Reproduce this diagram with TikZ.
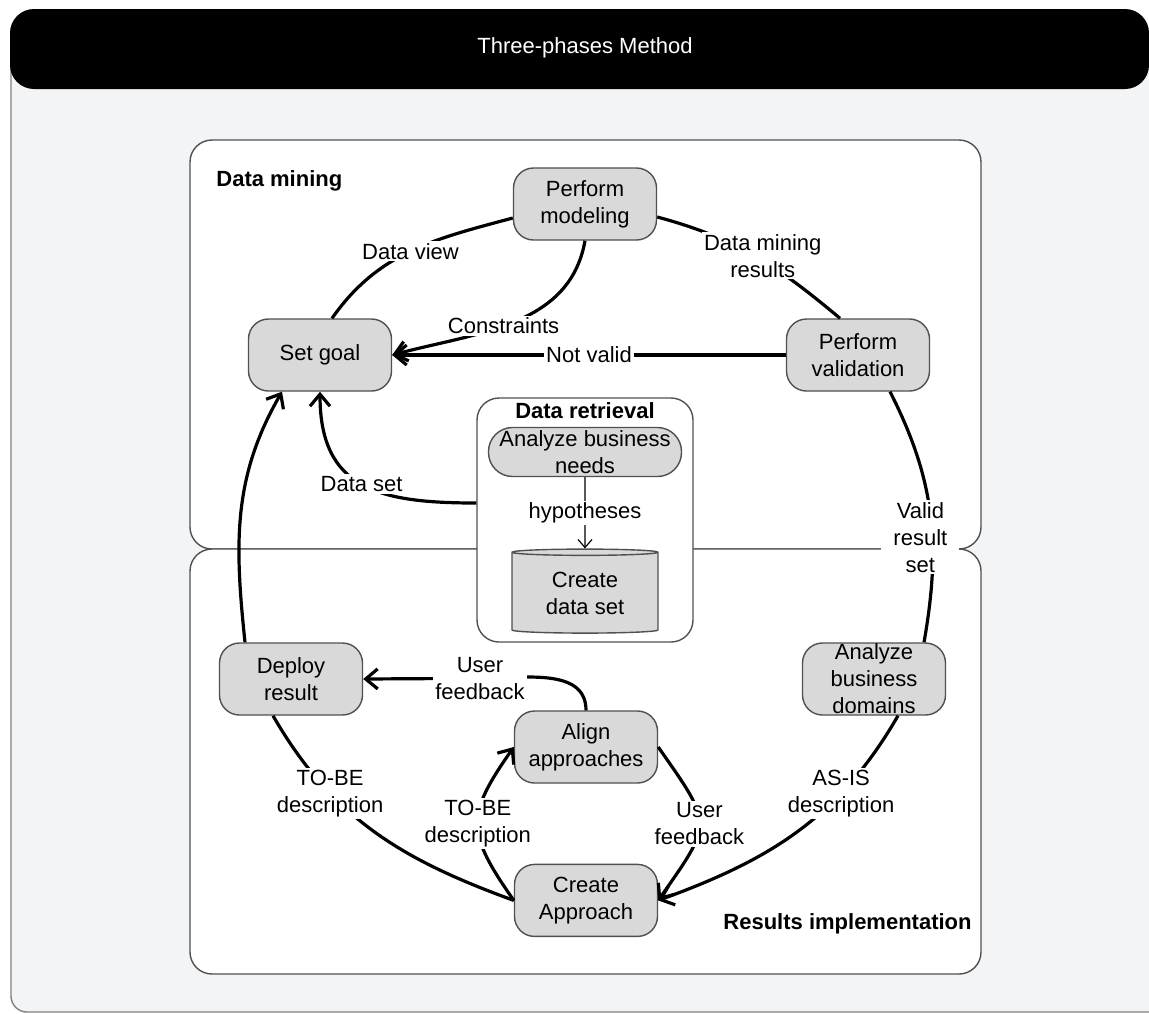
\documentclass[tikz,border=0pt]{standalone}
\usepackage{fontspec}
\setmainfont{Liberation Sans}
\usepackage{xcolor}
\usepackage{tikz}
\usetikzlibrary{arrows.meta,positioning,shapes.geometric}

\definecolor{boxgray}{RGB}{217,217,217}
\definecolor{pagegray}{RGB}{243,244,246}
\definecolor{edgegray}{RGB}{80,80,80}

\begin{document}
\begin{tikzpicture}[
    x=0.5pt, y=-0.5pt,
    font=\fontsize{11}{13.5}\selectfont,
    box/.style={draw=edgegray,fill=boxgray,line width=0.7pt,rounded corners=10pt,minimum width=71.5pt,minimum height=36pt,inner sep=1pt,align=center},
    pill/.style={draw=edgegray,fill=boxgray,line width=0.7pt,rounded corners=12pt,minimum width=96.5pt,minimum height=24.5pt,inner sep=0pt,align=center},
    area/.style={draw=edgegray,fill=white,line width=0.7pt,rounded corners=11pt},
    head/.style={font=\fontsize{11}{13.5}\selectfont\bfseries,inner sep=0pt},
    lbl/.style={fill=white,align=center,inner sep=1pt},
    link/.style={line width=1.6pt},
    arr/.style={-{Straight Barb[length=6pt,width=10pt]},line width=1.6pt},
    thinarr/.style={-{Straight Barb[length=4pt,width=7pt]},line width=0.6pt}
  ]
    \useasboundingbox (0,0) rectangle (1149,1013);
    \clip (0,0) rectangle (1149,1013);
    % frame and title bar
    \draw[fill=pagegray,draw=gray,line width=0.7pt,rounded corners=8pt] (11,40) rectangle (1190,1012);
    \fill[black,rounded corners=12pt] (10,9) rectangle (1149,89);
    \node[text=white] (title) at (585,48) {Three-phases Method};
    % the two phases
    \draw[area] (190,140) rectangle (981,549);
    \draw[area] (190,549) rectangle (981,974);
    \node[head,anchor=west] (tdm) at (216,181) {Data mining};
    \node[head,anchor=east] (tri) at (972,924) {Results implementation};
    % data retrieval
    \node[area,minimum width=108pt,minimum height=122pt] (dret) at (585,520) {};
    \node[head] (tdr) at (585,411) {Data retrieval};
    \node[pill] (abn) at (585,452) {Analyze business\\needs};
    \node[cylinder,shape border rotate=90,aspect=0.08,draw=edgegray,fill=boxgray,line width=0.7pt,
      minimum width=73pt,minimum height=42pt,align=center,inner sep=0pt] (cds) at (585,593) {Create\\data set};
    \draw[thinarr] (abn) -- node[lbl]{hypotheses} (cds);
    % steps
    \node[box] (pmod) at (585,204) {Perform\\modeling};
    \node[box] (setgoal) at (320,355) {Set goal};
    \node[box] (pval) at (858,355) {Perform\\validation};
    \node[box] (deploy) at (291,679) {Deploy\\result};
    \node[box,inner sep=0pt] (abd) at (874,679) {Analyze\\business\\domains};
    \node[box] (align) at (586,747) {Align\\approaches};
    \node[box,below=40pt of align] (cappr) {Create\\Approach};
    % data mining loop
    \draw[link] ([xshift=6pt]setgoal.north) to[out=55,in=195] node[lbl]{Data view} ([yshift=-7pt]pmod.west);
    \draw[link] ([yshift=-6.5pt]pmod.east) to[out=-15,in=140] node[lbl,xshift=4pt]{Data mining\\results} ([xshift=-9pt]pval.north);
    \draw[arr] (pmod.south) to[out=-100,in=15] node[lbl,pos=0.55]{Constraints} (setgoal.east);
    \draw[arr] (pval) -- node[lbl]{Not valid} (setgoal);
    \draw[arr] ([yshift=8.5pt]dret.west) to[out=180,in=-90,looseness=1.3] node[lbl]{Data set} (setgoal.south);
    \draw[arr] ([xshift=-23pt]deploy.north) to[out=96,in=-120] ([xshift=-19pt]setgoal.south);
    \draw[link] ([xshift=16pt]pval.south) to[out=-63,in=80] node[lbl,pos=0.6,xshift=-6pt,inner xsep=6pt]{Valid\\result\\set} ([xshift=25pt]abd.north);
    % results implementation
    \draw[arr] ([xshift=12pt]abd.south) to[out=-120,in=20] node[lbl,pos=0.3]{AS-IS\\description} (cappr.east);
    \draw[link] ([xshift=-9pt]deploy.south) to[out=-60,in=160] node[lbl,pos=0.3]{TO-BE\\description} (cappr.west);
    \draw[arr] (cappr.west) to[out=125,in=-125,looseness=1.4] node[lbl]{TO-BE\\description} (align.west);
    \draw[arr] (align.east) to[out=-55,in=55,looseness=1.6] node[lbl]{User\\feedback} (cappr.east);
    \draw[arr] (align.north) to[out=90,in=0] ++(-106,-32) node[lbl]{User\\feedback} -- (deploy.east);
  \end{tikzpicture}
\end{document}
